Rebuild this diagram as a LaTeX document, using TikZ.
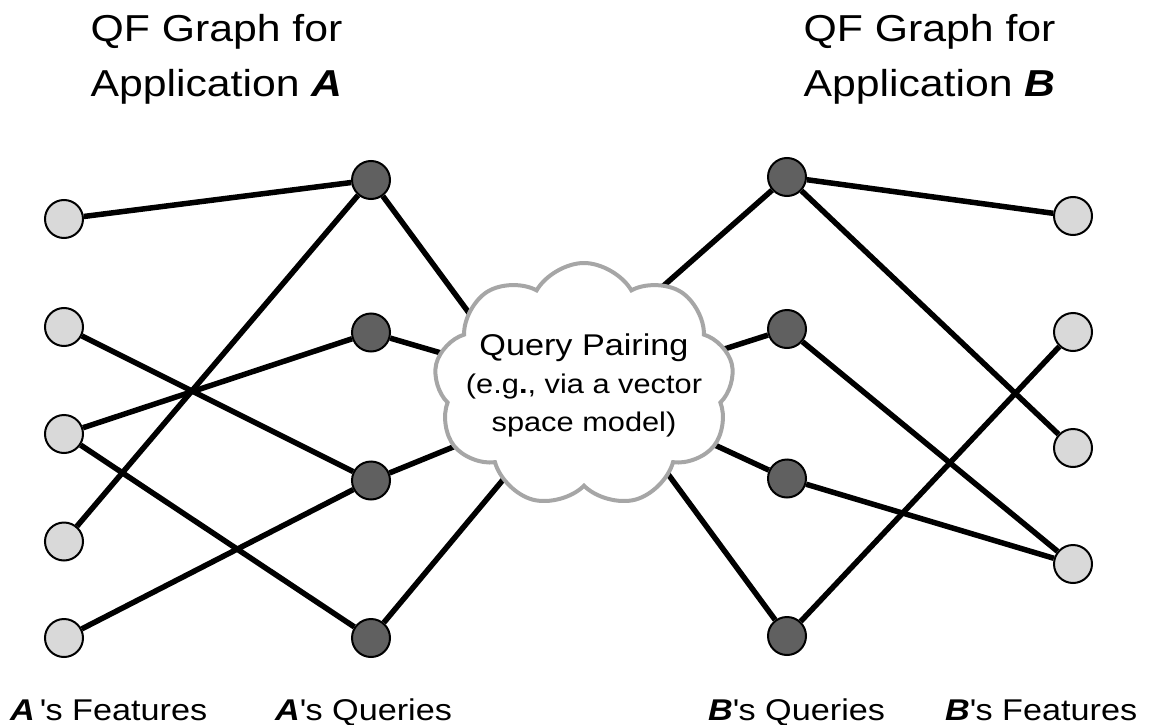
\documentclass[tikz,border=0pt]{standalone}
\usepackage{fontspec}
\setmainfont{Liberation Sans}[FakeStretch=1.14]
\usetikzlibrary{shapes.symbols,backgrounds}
\definecolor{featfill}{HTML}{D9D9D9}
\definecolor{queryfill}{HTML}{606060}
\definecolor{cloudline}{HTML}{A6A6A6}
\newcommand{\appA}{\textbf{\textit{A}}}
\newcommand{\appB}{\textbf{\textit{B}}}
\begin{document}
\begin{tikzpicture}[x=1pt,y=-1pt,
  feat/.style={circle,draw=black,line width=2pt,fill=featfill,minimum size=38pt,inner sep=0pt},
  query/.style={circle,draw=black,line width=2pt,fill=queryfill,minimum size=38pt,inner sep=0pt},
  link/.style={line width=5.5pt,black},
  title/.style={font=\fontsize{37.5}{45}\selectfont,anchor=base,inner sep=0pt},
  colname/.style={font=\fontsize{30}{36}\selectfont,anchor=base west,inner sep=0pt},
  pairing/.style={cloud,cloud puffs=9,cloud puff arc=120,cloud ignores aspect,
    draw=cloudline,line width=4pt,fill=white,minimum width=240pt,minimum height=244pt,
    align=center,inner xsep=-16pt,inner ysep=0pt,font=\fontsize{27}{38}\selectfont}]
\useasboundingbox (0,0) rectangle (1151,725);

% titles
\node[title] (tA1) at (216.5,41.7) {QF Graph for};
\node[title] (tA2) at (216.5,96.7) {Application \appA};
\node[title] (tB1) at (929.5,41.7) {QF Graph for};
\node[title] (tB2) at (929.5,96.7) {Application \appB};

% column captions
\node[colname] (lfa) at (10,720) {\appA\,\textquotesingle s Features};
\node[colname] (lqa) at (275,720) {\appA\textquotesingle s Queries};
\node[colname] (lqb) at (708,720) {\appB\textquotesingle s Queries};
\node[colname] (lfb) at (945,720) {\appB\textquotesingle s Features};

% application A
\node[feat] (fa1) at (64,219) {};
\node[feat] (fa2) at (64,327) {};
\node[feat] (fa3) at (64,434) {};
\node[feat] (fa4) at (64,541.5) {};
\node[feat] (fa5) at (64,638) {};
\node[query] (qa1) at (371,180) {};
\node[query] (qa2) at (371,332.5) {};
\node[query] (qa3) at (371,480.5) {};
\node[query] (qa4) at (371,638) {};

% application B
\node[query] (qb1) at (787,177) {};
\node[query] (qb2) at (787,329) {};
\node[query] (qb3) at (787,478.5) {};
\node[query] (qb4) at (787,636) {};
\node[feat] (fb1) at (1073,216) {};
\node[feat] (fb2) at (1073,332) {};
\node[feat] (fb3) at (1073,448) {};
\node[feat] (fb4) at (1073,564) {};

% pairing cloud
\node[pairing] (pair) at (584,385) {{\fontsize{30}{38}\selectfont Query Pairing}\\(e.g\textbf{.}, via a vector\\space model)};

% where the query links disappear under the cloud
\coordinate (ca1) at (484.5,334);
\coordinate (ca2) at (465,360);
\coordinate (ca3) at (491,431.6);
\coordinate (ca4) at (522,457);
\coordinate (cb1) at (644,303);
\coordinate (cb2) at (698,357.4);
\coordinate (cb3) at (691,434);
\coordinate (cb4) at (660.6,464);

\begin{pgfonlayer}{background}
  \draw[link] (fa1) -- (qa1);
  \draw[link] (fa2) -- (qa3);
  \draw[link] (fa3) -- (qa2);
  \draw[link] (fa3) -- (qa4);
  \draw[link] (fa4) -- (qa1);
  \draw[link] (fa5) -- (qa3);
  \draw[link] (qa1) -- (ca1);
  \draw[link] (qa2) -- (ca2);
  \draw[link] (qa3) -- (ca3);
  \draw[link] (qa4) -- (ca4);
  \draw[link] (qb1) -- (cb1);
  \draw[link] (qb2) -- (cb2);
  \draw[link] (qb3) -- (cb3);
  \draw[link] (qb4) -- (cb4);
  \draw[link] (qb1) -- (fb1);
  \draw[link] (qb1) -- (fb3);
  \draw[link] (qb2) -- (fb4);
  \draw[link] (qb3) -- (fb4);
  \draw[link] (qb4) -- (fb2);
\end{pgfonlayer}
\end{tikzpicture}
\end{document}
